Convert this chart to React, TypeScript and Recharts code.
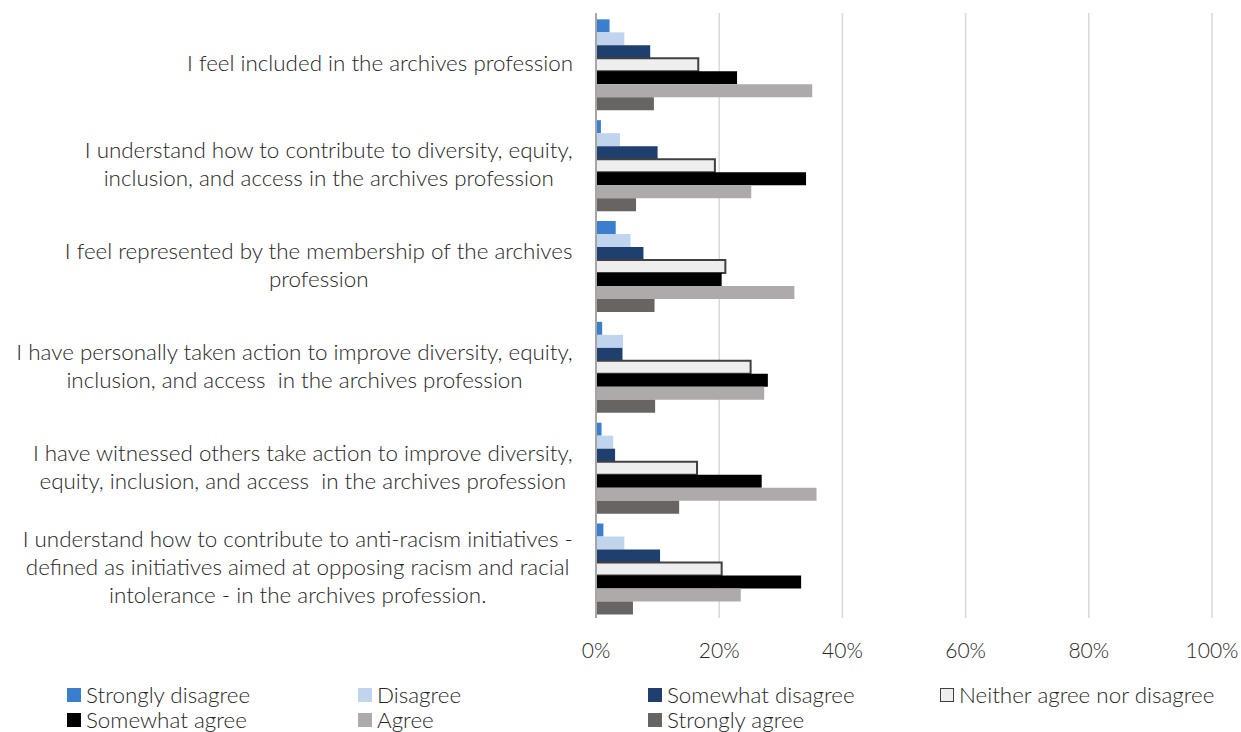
import { BarChart, Bar, XAxis, YAxis, CartesianGrid, Legend } from 'recharts';

const categories = [
  'I feel included in the archives profession',
  'I understand how to contribute to diversity, equity,\ninclusion, and access in the archives profession',
  'I feel represented by the membership of the archives\nprofession',
  'I have personally taken action to improve diversity, equity,\ninclusion, and access  in the archives profession',
  'I have witnessed others take action to improve diversity,\nequity, inclusion, and access  in the archives profession',
  'I understand how to contribute to anti-racism initiatives -\ndefined as initiatives aimed at opposing racism and racial\nintolerance - in the archives profession.',
];

const stronglyDisagree = [2.2, 0.8, 3.2, 1.0, 0.9, 1.2];
const disagree = [4.6, 3.9, 5.6, 4.4, 2.8, 4.6];
const somewhatDisagree = [8.8, 10.0, 7.7, 4.3, 3.1, 10.4];
const neither = [16.6, 19.3, 21.0, 25.1, 16.4, 20.4];
const somewhatAgree = [22.9, 34.1, 20.4, 27.9, 26.9, 33.3];
const agree = [35.1, 25.2, 32.2, 27.3, 35.8, 23.5];
const stronglyAgree = [9.4, 6.5, 9.5, 9.6, 13.5, 6.0];

const xTicks = [0, 20, 40, 60, 80, 100];

const SERIES = [
  { key: 'sd', name: 'Strongly disagree', values: stronglyDisagree, fill: '#3a7fcd' },
  { key: 'd', name: 'Disagree', values: disagree, fill: '#c1d4ed' },
  { key: 'swd', name: 'Somewhat disagree', values: somewhatDisagree, fill: '#1f3f6e' },
  { key: 'n', name: 'Neither agree nor disagree', values: neither, fill: '#eeeeee', stroke: '#404040' },
  { key: 'swa', name: 'Somewhat agree', values: somewhatAgree, fill: '#000000' },
  { key: 'a', name: 'Agree', values: agree, fill: '#aeaaaa' },
  { key: 'sa', name: 'Strongly agree', values: stronglyAgree, fill: '#686461' },
];

const data = categories.map((name, i) => {
  const row: Record<string, string | number> = { name };
  SERIES.forEach((s) => (row[s.key] = s.values[i]));
  return row;
});

const FONT = 'Lato, "Open Sans", sans-serif';
const TEXT = '#262626';
const LABEL_SIZE = 22.4;

let ctx: CanvasRenderingContext2D | null = null;
function measure(text: string, size: number) {
  if (!ctx) ctx = document.createElement('canvas').getContext('2d');
  if (!ctx) return text.length * size * 0.46;
  ctx.font = `300 ${size}px Lato`;
  return ctx.measureText(text).width;
}

function CategoryTick({ y, payload }: any) {
  const lines: string[] = String(payload.value).split('\n');
  const lh = 28;
  const maxW = Math.max(...lines.map((l) => measure(l, LABEL_SIZE)));
  const cx = 573 - maxW / 2;
  return (
    <text
      x={cx}
      y={y}
      textAnchor="middle"
      fontSize={LABEL_SIZE}
      fontWeight={300}
      fontFamily={FONT}
      fill={TEXT}
      style={{ whiteSpace: 'pre' }}
    >
      {lines.map((l, i) => (
        <tspan key={i} x={cx} y={y + (i - (lines.length - 1) / 2) * lh} dy="0.35em">
          {l}
        </tspan>
      ))}
    </text>
  );
}

function LegendBox() {
  return (
    <div
      style={{
        height: 64,
        width: 1241,
        boxSizing: 'border-box',
        paddingTop: 14,
        paddingLeft: 67,
        display: 'grid',
        gridTemplateColumns: '291px 290px 292px 290px',
        gridAutoRows: '25px',
        fontFamily: FONT,
        fontWeight: 300,
        fontSize: LABEL_SIZE,
        color: TEXT,
      }}
    >
      {SERIES.map((s) => (
        <div key={s.key} style={{ display: 'flex', alignItems: 'center', whiteSpace: 'nowrap' }}>
          <span
            style={{
              display: 'inline-block',
              width: 14,
              height: 14,
              background: s.fill,
              boxSizing: 'border-box',
              border: s.stroke ? `1.5px solid ${s.stroke}` : 'none',
              marginRight: 5,
            }}
          />
          {s.name}
        </div>
      ))}
    </div>
  );
}

export default function App() {
  return (
    <div style={{ position: 'absolute', left: 0, top: 0, background: '#fff' }}>
      <BarChart
        width={1241}
        height={732}
        data={data}
        layout="vertical"
        margin={{ top: 13, right: 29, bottom: 0, left: 0 }}
        barCategoryGap="6.3%"
        barGap={0}
      >
        <CartesianGrid horizontal={false} stroke="#d9d9d9" strokeWidth={1.5} />
        <XAxis
          type="number"
          domain={[0, 100]}
          ticks={xTicks}
          tickFormatter={(v) => `${v}%`}
          axisLine={false}
          tickLine={false}
          tickSize={0}
          tickMargin={25}
          height={50}
          interval={0}
          tick={{ fill: TEXT, fontSize: 21, fontWeight: 300, fontFamily: FONT }}
        />
        <YAxis
          type="category"
          dataKey="name"
          width={596}
          axisLine={{ stroke: '#a6a6a6', strokeWidth: 2 }}
          tickLine={false}
          interval={0}
          tick={<CategoryTick />}
        />
        <Legend verticalAlign="bottom" wrapperStyle={{ left: 0, width: 1241 }} content={() => <LegendBox />} />
        {SERIES.map((s) => (
          <Bar
            key={s.key}
            dataKey={s.key}
            name={s.name}
            fill={s.fill}
            stroke={s.stroke}
            strokeWidth={s.stroke ? 2 : 0}
            isAnimationActive={false}
          />
        ))}
      </BarChart>
    </div>
  );
}
